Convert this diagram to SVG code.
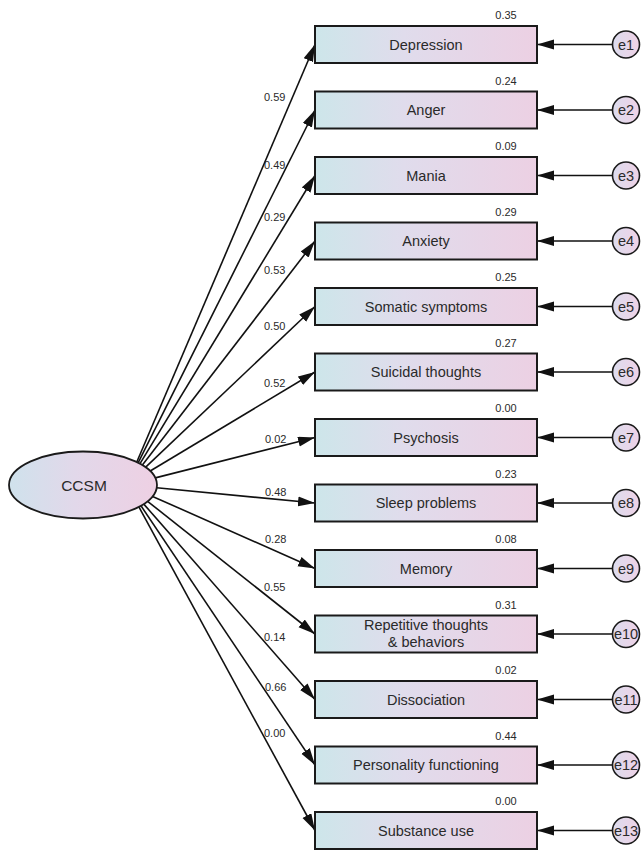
<svg xmlns="http://www.w3.org/2000/svg" width="642" height="850" viewBox="0 0 642 850">
<style>
.box{stroke:#1a1a1a;stroke-width:2;fill:url(#gBox)}
.err{stroke:#1a1a1a;stroke-width:1.6;fill:url(#gErr)}
.lat{stroke:#1a1a1a;stroke-width:1.8;fill:url(#gLat)}
.lbl{font-family:"Liberation Sans",Arial,sans-serif;font-size:14.5px;fill:#2a2a2a;text-anchor:middle}
.num{font-family:"Liberation Sans",Arial,sans-serif;font-size:11px;fill:#2a2a2a}
.var{text-anchor:middle}
.path{stroke:#111;stroke-width:1.6;fill:none;marker-end:url(#ah)}
</style>
<defs>
<linearGradient id="gBox" x1="0" y1="0" x2="1" y2="0">
<stop offset="0" stop-color="#cde6ea"/>
<stop offset="0.4" stop-color="#e0dcec"/>
<stop offset="1" stop-color="#ecd0e3"/>
</linearGradient>
<linearGradient id="gLat" x1="0" y1="0" x2="1" y2="0">
<stop offset="0" stop-color="#cfe2ec"/>
<stop offset="0.45" stop-color="#e2d8ea"/>
<stop offset="1" stop-color="#eed0e3"/>
</linearGradient>
<linearGradient id="gErr" x1="0" y1="0" x2="1" y2="0">
<stop offset="0" stop-color="#dcdcee"/>
<stop offset="1" stop-color="#efd2e6"/>
</linearGradient>
<marker id="ah" markerUnits="userSpaceOnUse" markerWidth="18" markerHeight="11" refX="17" refY="5" orient="auto">
<path d="M0,0 L17,5 L0,10 z" fill="#111"/>
</marker>
</defs>

<g id="connectors">
<line class="path" x1="136.8" y1="462.0" x2="315" y2="44.5"/>
<line class="path" x1="138.2" y1="462.7" x2="315" y2="110"/>
<line class="path" x1="140.0" y1="463.6" x2="315" y2="175.5"/>
<line class="path" x1="142.4" y1="465.0" x2="315" y2="241"/>
<line class="path" x1="145.7" y1="467.2" x2="315" y2="306.5"/>
<line class="path" x1="150.2" y1="471.0" x2="315" y2="372"/>
<line class="path" x1="155.3" y1="477.9" x2="315" y2="437.5"/>
<line class="path" x1="156.7" y1="487.8" x2="315" y2="503"/>
<line class="path" x1="152.6" y1="496.4" x2="315" y2="568.5"/>
<line class="path" x1="147.6" y1="501.3" x2="315" y2="634"/>
<line class="path" x1="143.8" y1="504.1" x2="315" y2="699.5"/>
<line class="path" x1="141.0" y1="505.8" x2="315" y2="765"/>
<line class="path" x1="138.9" y1="506.9" x2="315" y2="830.5"/>
<line class="path" x1="612" y1="44.5" x2="537" y2="44.5"/>
<line class="path" x1="612" y1="110" x2="537" y2="110"/>
<line class="path" x1="612" y1="175.5" x2="537" y2="175.5"/>
<line class="path" x1="612" y1="241" x2="537" y2="241"/>
<line class="path" x1="612" y1="306.5" x2="537" y2="306.5"/>
<line class="path" x1="612" y1="372" x2="537" y2="372"/>
<line class="path" x1="612" y1="437.5" x2="537" y2="437.5"/>
<line class="path" x1="612" y1="503" x2="537" y2="503"/>
<line class="path" x1="612" y1="568.5" x2="537" y2="568.5"/>
<line class="path" x1="612" y1="634" x2="537" y2="634"/>
<line class="path" x1="612" y1="699.5" x2="537" y2="699.5"/>
<line class="path" x1="612" y1="765" x2="537" y2="765"/>
<line class="path" x1="612" y1="830.5" x2="537" y2="830.5"/>
<g class="num">
<text x="264" y="101">0.59</text>
<text x="264" y="169">0.49</text>
<text x="264" y="221">0.29</text>
<text x="264" y="274">0.53</text>
<text x="264" y="330">0.50</text>
<text x="264" y="387">0.52</text>
<text x="265" y="443">0.02</text>
<text x="265" y="496">0.48</text>
<text x="265" y="543">0.28</text>
<text x="264" y="591">0.55</text>
<text x="264" y="641">0.14</text>
<text x="265" y="691">0.66</text>
<text x="264" y="737">0.00</text>
</g>
</g>

<g id="CCSM">
<ellipse class="lat" cx="83" cy="485" rx="74" ry="33.5"/>
<text class="lbl" x="84" y="490.5" style="font-size:15.5px">CCSM</text>
</g>

<g id="depression"><rect class="box" x="315" y="26" width="222" height="37"/><text class="lbl" x="426" y="49.5">Depression</text><text class="num var" x="506" y="19">0.35</text></g>
<g id="anger"><rect class="box" x="315" y="91.5" width="222" height="37"/><text class="lbl" x="426" y="115">Anger</text><text class="num var" x="506" y="84.5">0.24</text></g>
<g id="mania"><rect class="box" x="315" y="157" width="222" height="37"/><text class="lbl" x="426" y="180.5">Mania</text><text class="num var" x="506" y="150">0.09</text></g>
<g id="anxiety"><rect class="box" x="315" y="222.5" width="222" height="37"/><text class="lbl" x="426" y="246">Anxiety</text><text class="num var" x="506" y="215.5">0.29</text></g>
<g id="somatic"><rect class="box" x="315" y="288" width="222" height="37"/><text class="lbl" x="426" y="311.5">Somatic symptoms</text><text class="num var" x="506" y="281">0.25</text></g>
<g id="suicidal"><rect class="box" x="315" y="353.5" width="222" height="37"/><text class="lbl" x="426" y="377">Suicidal thoughts</text><text class="num var" x="506" y="346.5">0.27</text></g>
<g id="psychosis"><rect class="box" x="315" y="419" width="222" height="37"/><text class="lbl" x="426" y="442.5">Psychosis</text><text class="num var" x="506" y="412">0.00</text></g>
<g id="sleep"><rect class="box" x="315" y="484.5" width="222" height="37"/><text class="lbl" x="426" y="508">Sleep problems</text><text class="num var" x="506" y="477.5">0.23</text></g>
<g id="memory"><rect class="box" x="315" y="550" width="222" height="37"/><text class="lbl" x="426" y="573.5">Memory</text><text class="num var" x="506" y="543">0.08</text></g>
<g id="repetitive"><rect class="box" x="315" y="615.5" width="222" height="37"/><text class="lbl" x="426" y="630">Repetitive thoughts</text><text class="lbl" x="426" y="647">&amp; behaviors</text><text class="num var" x="506" y="608.5">0.31</text></g>
<g id="dissociation"><rect class="box" x="315" y="681" width="222" height="37"/><text class="lbl" x="426" y="704.5">Dissociation</text><text class="num var" x="506" y="674">0.02</text></g>
<g id="personality"><rect class="box" x="315" y="746.5" width="222" height="37"/><text class="lbl" x="426" y="770">Personality functioning</text><text class="num var" x="506" y="739.5">0.44</text></g>
<g id="substance"><rect class="box" x="315" y="812" width="222" height="37"/><text class="lbl" x="426" y="835.5">Substance use</text><text class="num var" x="506" y="805">0.00</text></g>

<g id="e1"><circle class="err" cx="626" cy="44.5" r="13.5"/><text class="lbl" x="626" y="49.5">e1</text></g>
<g id="e2"><circle class="err" cx="626" cy="110" r="13.5"/><text class="lbl" x="626" y="115">e2</text></g>
<g id="e3"><circle class="err" cx="626" cy="175.5" r="13.5"/><text class="lbl" x="626" y="180.5">e3</text></g>
<g id="e4"><circle class="err" cx="626" cy="241" r="13.5"/><text class="lbl" x="626" y="246">e4</text></g>
<g id="e5"><circle class="err" cx="626" cy="306.5" r="13.5"/><text class="lbl" x="626" y="311.5">e5</text></g>
<g id="e6"><circle class="err" cx="626" cy="372" r="13.5"/><text class="lbl" x="626" y="377">e6</text></g>
<g id="e7"><circle class="err" cx="626" cy="437.5" r="13.5"/><text class="lbl" x="626" y="442.5">e7</text></g>
<g id="e8"><circle class="err" cx="626" cy="503" r="13.5"/><text class="lbl" x="626" y="508">e8</text></g>
<g id="e9"><circle class="err" cx="626" cy="568.5" r="13.5"/><text class="lbl" x="626" y="573.5">e9</text></g>
<g id="e10"><circle class="err" cx="626" cy="634" r="13.5"/><text class="lbl" x="626" y="639">e10</text></g>
<g id="e11"><circle class="err" cx="626" cy="699.5" r="13.5"/><text class="lbl" x="626" y="704.5">e11</text></g>
<g id="e12"><circle class="err" cx="626" cy="765" r="13.5"/><text class="lbl" x="626" y="770">e12</text></g>
<g id="e13"><circle class="err" cx="626" cy="830.5" r="13.5"/><text class="lbl" x="626" y="835.5">e13</text></g>
</svg>
